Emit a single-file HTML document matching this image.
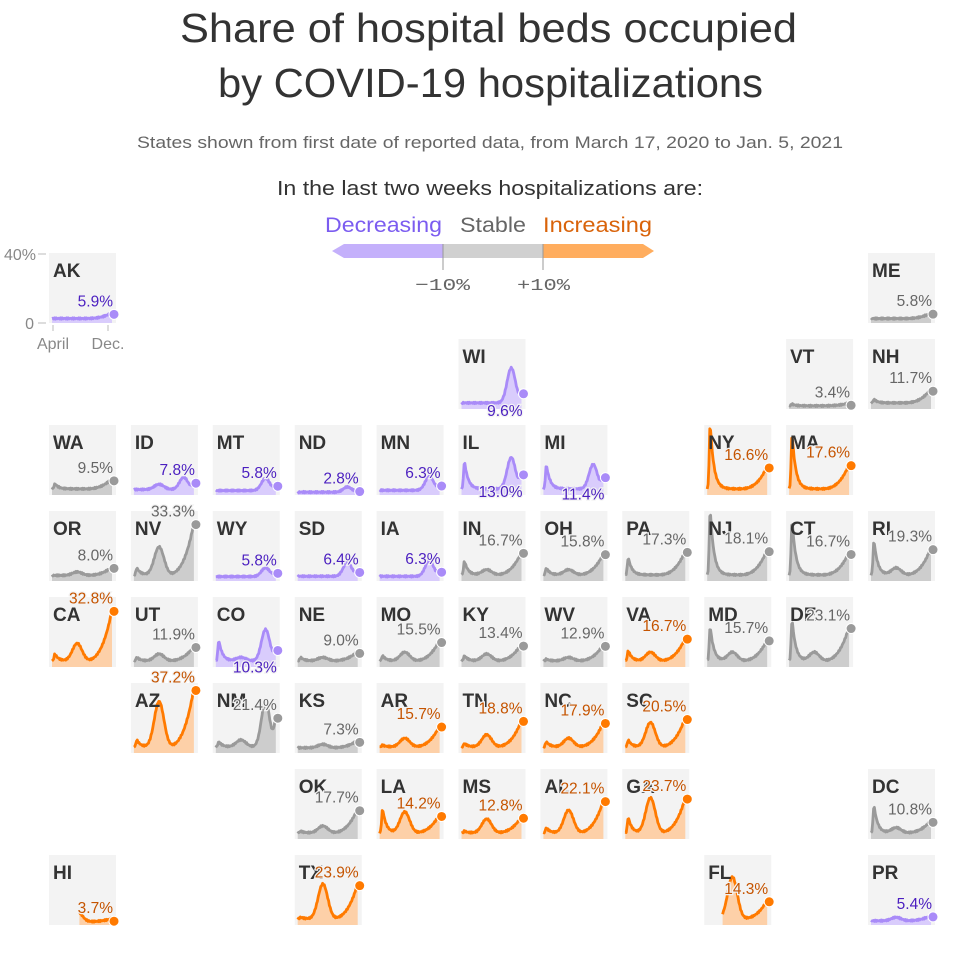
<!DOCTYPE html>
<html><head><meta charset="utf-8">
<style>
body{margin:0;background:#fff;width:980px;height:954px;overflow:hidden;font-family:"Liberation Sans",sans-serif;}
svg text{font-family:"Liberation Sans",sans-serif;}
</style></head><body>
<svg id="s" width="980" height="954" xmlns="http://www.w3.org/2000/svg">
<text x="180" y="42" textLength="617" lengthAdjust="spacingAndGlyphs" font-size="41" fill="#333">Share of hospital beds occupied</text>
<text x="218" y="97" textLength="545" lengthAdjust="spacingAndGlyphs" font-size="41" fill="#333">by COVID-19 hospitalizations</text>
<text x="137" y="148" textLength="706" lengthAdjust="spacingAndGlyphs" font-size="17" fill="#666">States shown from first date of reported data, from March 17, 2020 to Jan. 5, 2021</text>
<text x="277" y="195" textLength="426" lengthAdjust="spacingAndGlyphs" font-size="20" fill="#333">In the last two weeks hospitalizations are:</text>
<text x="325" y="232" textLength="117" lengthAdjust="spacingAndGlyphs" font-size="21" fill="#7b5cf0">Decreasing</text>
<text x="460" y="232" textLength="66" lengthAdjust="spacingAndGlyphs" font-size="21" fill="#666">Stable</text>
<text x="543" y="232" textLength="109" lengthAdjust="spacingAndGlyphs" font-size="21" fill="#d9630a">Increasing</text>
<polygon points="332,251 344,244 443,244 443,258 344,258" fill="#c4b0fb"/>
<rect x="443" y="244" width="100" height="14" fill="#d0d0d0"/>
<polygon points="543,244 643,244 654,251 643,258 543,258" fill="#ffad5e"/>
<line x1="443" y1="244" x2="443" y2="270" stroke="#999"/>
<line x1="543" y1="244" x2="543" y2="270" stroke="#999"/>
<text x="415" y="290" textLength="55" lengthAdjust="spacingAndGlyphs" font-size="17" fill="#666" style="font-family:'Liberation Mono',monospace">−10%</text>
<text x="517" y="290" textLength="53" lengthAdjust="spacingAndGlyphs" font-size="17" fill="#666" style="font-family:'Liberation Mono',monospace">+10%</text>
<text x="36" y="260" text-anchor="end" font-size="16" fill="#888">40%</text>
<line x1="38" y1="254" x2="46" y2="254" stroke="#bbb"/>
<text x="34" y="329" text-anchor="end" font-size="16" fill="#888">0</text>
<line x1="38" y1="323" x2="46" y2="323" stroke="#bbb"/>
<line x1="53" y1="325" x2="53" y2="331" stroke="#bbb"/>
<line x1="108" y1="325" x2="108" y2="331" stroke="#bbb"/>
<text x="53" y="349" text-anchor="middle" font-size="16" fill="#888">April</text>
<text x="108" y="349" text-anchor="middle" font-size="16" fill="#888">Dec.</text>
<g id="g"></g>
</svg>
<script>
var D=[
["AK",0,0,5.9,"p",0,0,0,0,0],["ME",10,0,5.8,"g",0,0,0,0,0],
["WI",5,1,9.6,"p",0,0,20,1,0],["VT",9,1,3.4,"g",1,0,0,0,0],["NH",10,1,11.7,"g",2,0,0,0,0],
["WA",0,2,9.5,"g",3,0,0,0,0],["ID",1,2,7.8,"p",0,3,7,0,0],["MT",2,2,5.8,"p",0,0,7,0,0],["ND",3,2,2.8,"p",0,0,3,0,0],["MN",4,2,6.3,"p",0,0,8,0,0],["IL",5,2,13.0,"p",16,0,18,1,0],["MI",6,2,11.4,"p",14,0,14,1,0],["NY",8,2,16.6,"o",38,0,0,0,0],["MA",9,2,17.6,"o",32,0,0,0,0],
["OR",0,3,8.0,"g",0,2,0,0,0],["NV",1,3,33.3,"g",4,16,0,0,0],["WY",2,3,5.8,"p",0,0,5,0,0],["SD",3,3,6.4,"p",0,0,8,0,0],["IA",4,3,6.3,"p",0,0,9,0,0],["IN",5,3,16.7,"g",8,3,0,0,0],["OH",6,3,15.8,"g",4,3,0,0,0],["PA",7,3,17.3,"g",10,0,0,0,0],["NJ",8,3,18.1,"g",38,0,0,0,0],["CT",9,3,16.7,"g",32,0,0,0,0],["RI",10,3,19.3,"g",20,4,0,0,0],
["CA",0,4,32.8,"o",4,10,0,0,0],["UT",1,4,11.9,"g",2,4,0,0,0],["CO",2,4,10.3,"p",12,2,18,1,0],["NE",3,4,9.0,"g",2,2,0,0,0],["MO",4,4,15.5,"g",3,5,0,0,0],["KY",5,4,13.4,"g",3,4,0,0,0],["WV",6,4,12.9,"g",1,2,0,0,0],["VA",7,4,16.7,"o",6,5,0,0,0],["MD",8,4,15.7,"g",20,5,0,0,0],["DE",9,4,23.1,"g",24,5,0,0,0],
["AZ",1,5,37.2,"o",4,26,0,0,0],["NM",2,5,21.4,"g",3,4,26,0,0],["KS",3,5,7.3,"g",0,2,0,0,0],["AR",4,5,15.7,"o",1,5,0,0,0],["TN",5,5,18.8,"o",2,7,0,0,0],["NC",6,5,17.9,"o",3,5,0,0,0],["SC",7,5,20.5,"o",4,14,0,0,0],
["OK",3,6,17.7,"g",1,4,0,0,0],["LA",4,6,14.2,"o",14,12,0,0,0],["MS",5,6,12.8,"o",1,8,0,0,0],["AL",6,6,22.1,"o",3,13,0,0,0],["GA",7,6,23.7,"o",9,20,0,0,0],["DC",10,6,10.8,"g",16,3,0,0,0],
["HI",0,7,3.7,"o",0,6,0,0,0.45],["TX",3,7,23.9,"o",1,20,0,0,0],["FL",8,7,14.3,"o",0,24,0,0,0.25],["PR",10,7,5.4,"p",0,2,0,0,0]];
var C={p:["#a98bf8","#d9ccfc","#4b1fc0"],g:["#9a9a9a","#cdcdcd","#666"],o:["#ff7a00","#fdd0a8","#c55400"]};
function gs(t,c,w){return Math.exp(-Math.pow((t-c)/w,2)/2);}
function asym(t,c,wl,wr){return t<c?gs(t,c,wl):Math.exp(-(t-c)/wr);}
var h="";
D.forEach(function(d,i){
 var x=49+d[1]*81.9,y=253+d[2]*86,c=C[d[4]];
 h+='<rect x="'+x+'" y="'+y+'" width="67" height="70" fill="#f3f3f3"/>';
 var base=Math.min(3.5,d[3]*0.3+0.8),st=d[9];
 function f(t){return base+d[5]*asym(t,0.05,0.015,0.06)+d[6]*gs(t,0.42,0.08)+d[7]*gs(t,0.83,0.07);}
 var L=d[3]-f(1);
 var pts=[],N=70;
 for(var k=0;k<=N;k++){var t=k/N;if(t<st)continue;
  var r=Math.max(0,(t-0.5)/0.5);
  var v=f(t)+(d[7]?0:L*r*r*r);
  if(d[7])v+=L*Math.pow(Math.max(0,(t-0.9)/0.1),2);
  v+=Math.sin(k*2.7+i)*0.4;
  v=Math.max(0.3,v);
  pts.push([x+3+t*60,y+70-v*1.75]);}
 var p=pts.map(function(q){return q[0].toFixed(1)+","+q[1].toFixed(1)}).join(" ");
 var last=pts[pts.length-1];
 h+='<polygon points="'+pts[0][0].toFixed(1)+','+(y+70)+' '+p+' '+last[0].toFixed(1)+','+(y+70)+'" fill="'+c[1]+'"/>';
 h+='<polyline points="'+p+'" fill="none" stroke="'+c[0]+'" stroke-width="2.8" stroke-linejoin="round"/>';
 h+='<circle cx="'+(x+65)+'" cy="'+(last[1]+2)+'" r="5" fill="'+c[0]+'" stroke="#fff" stroke-width="1"/>';
 h+='<text x="'+(x+4)+'" y="'+(y+24)+'" font-size="19" font-weight="bold" fill="#333">'+d[0]+'</text>';
 var ly=d[8]?Math.min(y+80,last[1]+24):last[1]-6;
 h+='<text x="'+(x+64)+'" y="'+ly.toFixed(1)+'" text-anchor="end" font-size="15.5" fill="'+c[2]+'" stroke="#f3f3f3" stroke-width="2.5" paint-order="stroke">'+d[3].toFixed(1)+'%</text>';
});
document.getElementById("g").innerHTML=h;
</script>
</body></html>
